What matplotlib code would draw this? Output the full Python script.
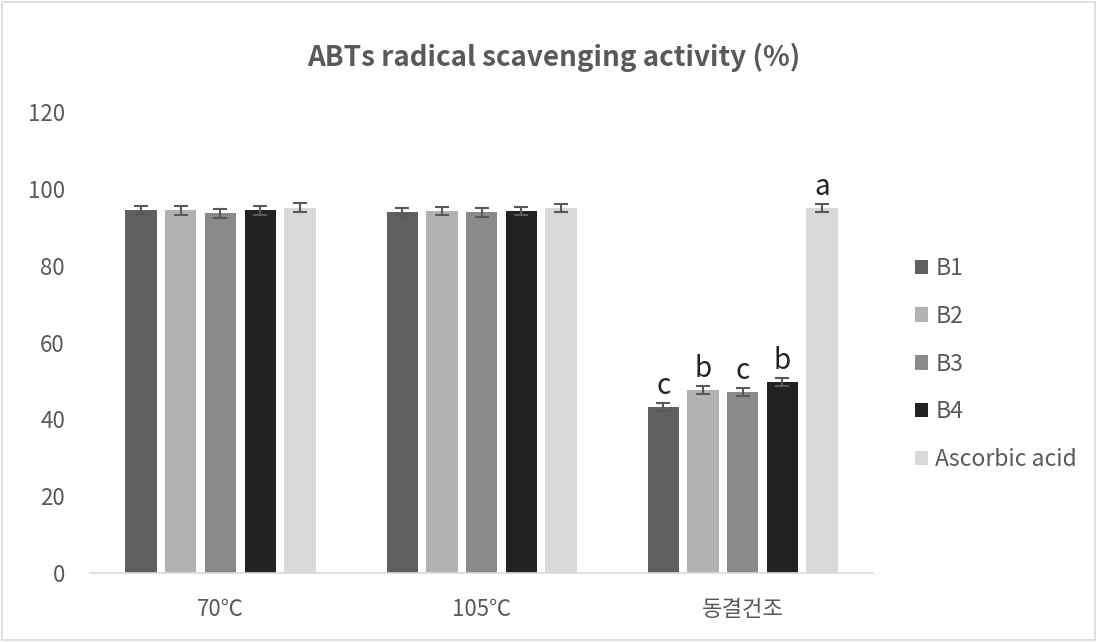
import numpy as np
import matplotlib.pyplot as plt

plt.rcParams['font.family'] = ['Noto Sans CJK KR', 'DejaVu Sans']

groups = ['70℃', '105℃', '동결건조']
series = ['B1', 'B2', 'B3', 'B4', 'Ascorbic acid']
values = np.array([
    [94.5, 94.4, 93.6, 94.4, 95.1],   # 70℃
    [93.9, 94.2, 93.9, 94.2, 95.0],   # 105℃
    [43.2, 47.6, 47.1, 49.7, 95.0],   # 동결건조
])
errors = np.array([
    [1.1, 1.1, 1.1, 1.1, 1.1],
    [1.0, 1.1, 1.1, 1.1, 1.0],
    [1.0, 1.1, 1.1, 1.0, 1.1],
])
letters = ['c', 'b', 'c', 'b', 'a']
colors = ['#5f5f5f', '#b2b2b2', '#8a8a8a', '#222222', '#d9d9d9']

fig = plt.figure(figsize=(10.97, 6.42), dpi=100)
ax = fig.add_axes([0.082, 0.1075, 0.714, 0.718])

x = np.arange(len(groups))
w = 0.12
step = 0.152
for i in range(len(series)):
    xs = x + (i - 2) * step
    ax.bar(xs, values[:, i], w, color=colors[i], label=series[i],
           yerr=errors[:, i], capsize=5,
           error_kw=dict(ecolor='#595959', elinewidth=1.5, capthick=1.5))
    # significance letters on the freeze-dried group
    ax.text(xs[2], values[2, i] + errors[2, i] + 0.6, letters[i],
            ha='center', va='bottom', fontsize=20, color='#222222')

ax.set_xlim(-0.5, 2.5)
ax.set_ylim(0, 120)
ax.set_yticks(np.arange(0, 121, 20))
ax.set_xticks(x)
ax.set_xticklabels(groups)
ax.tick_params(axis='both', length=0, labelsize=16, colors='#595959')
ax.tick_params(axis='y', pad=18)
ax.tick_params(axis='x', pad=18)
for s in ['top', 'right', 'left']:
    ax.spines[s].set_visible(False)
ax.spines['bottom'].set_color('#d9d9d9')
ax.spines['bottom'].set_linewidth(1.2)

fig.text(0.505, 0.91, 'ABTs radical scavenging activity (%)', ha='center',
         va='center', fontsize=20, fontweight='bold', color='#595959')

leg = fig.legend(loc='center left', bbox_to_anchor=(0.815, 0.433), frameon=False,
                 fontsize=16.5, handlelength=0.6, handleheight=0.6,
                 handletextpad=0.3, labelspacing=1.08)
for t in leg.get_texts():
    t.set_color('#595959')

fig.patches.append(plt.Rectangle((0.002, 0.003), 0.996, 0.994, transform=fig.transFigure,
                                 fill=False, edgecolor='#d9d9d9', linewidth=1.2))

fig.savefig('out.png', dpi=100)
